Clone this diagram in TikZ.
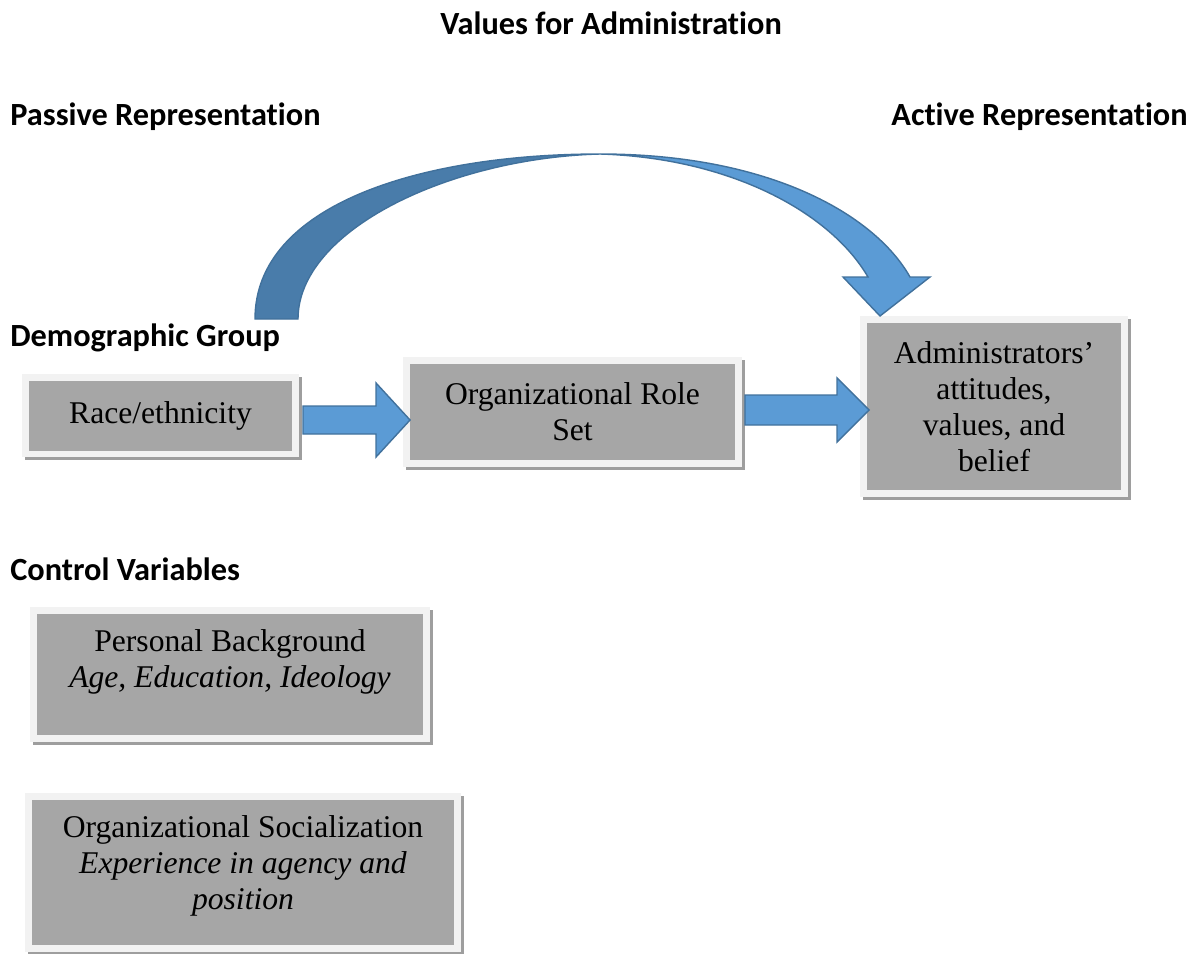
\documentclass[tikz,border=0pt]{standalone}
\usepackage{fontspec}
\setmainfont{Liberation Serif}
\newfontfamily\headfont{Carlito}[Ligatures={NoCommon}]
\usetikzlibrary{calc,shadows}

\definecolor{arrowblue}{RGB}{91,155,213}
\definecolor{arrowdark}{RGB}{73,124,170}
\definecolor{arrowline}{RGB}{65,113,156}
\definecolor{boxfill}{RGB}{166,166,166}
\definecolor{boxframe}{RGB}{242,242,242}
\definecolor{boxshade}{RGB}{158,158,158}

% straight block arrow: start, tip, half shaft, half head, head length
\newcommand{\flowarrow}[5]{%
  \filldraw[blockarrow] ($(#1)+(0,-#3)$) -- ($(#2)+(-#5,-#3)$) -- ($(#2)+(-#5,-#4)$)
    -- (#2) -- ($(#2)+(-#5,#4)$) -- ($(#2)+(-#5,#3)$) -- ($(#1)+(0,#3)$) -- cycle;}

\begin{document}
\begin{tikzpicture}[x=0.02cm, y=-0.02cm,
    heading/.style={font=\headfont\bfseries\fontsize{18.4}{22}\selectfont, inner sep=0pt},
    varbox/.style={fill=boxfill, draw=boxframe, line width=0.14cm, align=center,
      font=\fontsize{18}{20.5}\selectfont, inner sep=0pt,
      drop shadow={shadow xshift=0.06cm, shadow yshift=-0.06cm, fill=boxshade,
        draw=boxshade, line width=0.14cm, opacity=1}},
    boxtext/.style={align=center, font=\fontsize{18}{20.5}\selectfont, inner sep=0pt},
    blockarrow/.style={fill=arrowblue, draw=arrowline, line width=0.8pt, line join=miter},
    arcback/.style={fill=arrowdark, draw=arrowline, line width=0.8pt}]
  \useasboundingbox (0,0) rectangle (1195,953);

  % headings
  \node[heading, anchor=base] (title) at (611,35) {Values for Administration};
  \node[heading, anchor=base west] (passive) at (10,125) {Passive Representation};
  \node[heading, anchor=base east] (active) at (1188,125) {Active Representation};
  \node[heading, anchor=base west] (demog) at (10,346) {Demographic Group};
  \node[heading, anchor=base west] (controls) at (10,580) {Control Variables};

  % main chain
  \node[varbox, minimum width=5.4cm, minimum height=1.54cm] (race) at (160.5,415.5) {Race/ethnicity};
  \node[varbox, minimum width=6.64cm, minimum height=2.06cm] (role) at (572.5,412) {Organizational Role\\Set};
  \node[varbox, minimum width=5.22cm, minimum height=3.48cm] (admin) at (994,406.5)
    {Administrators’\\attitudes,\\values, and\\belief};

  % control variables
  \node[varbox, minimum width=7.86cm, minimum height=2.56cm] (persbg) at (230,674.5) {};
  \node[boxtext] (persbgtext) at ([yshift=0.25cm]persbg.center)
    {Personal Background\\\textit{Age, Education, Ideology}};
  \node[varbox, minimum width=8.6cm, minimum height=3.04cm] (orgsoc) at (243,872.5) {};
  \node[boxtext] (orgsoctext) at ([yshift=0.14cm]orgsoc.center)
    {Organizational Socialization\\\textit{Experience in agency and}\\\textit{position}};

  % arrows between the boxes
  \coordinate (a1s) at ($(race.east)+(4,4.5)$);
  \coordinate (a1e) at ($(a1s -| role.west)+(7,0)$);
  \flowarrow{a1s}{a1e}{14}{37}{34}
  \coordinate (a2s) at ($(role.east)+(3,-2)$);
  \coordinate (a2e) at ($(a2s -| admin.west)+(9,0)$);
  \flowarrow{a2s}{a2e}{15}{32}{32}

  % curved arrow over the top
  \filldraw[arcback] (255,319) .. controls (255,205) and (420,154) .. (600,154)
    .. controls (450,158) and (298,230) .. (298,319) -- cycle;
  \filldraw[blockarrow] (600,154) .. controls (770,154) and (875,215) .. (910,277)
    -- (930,277) -- (880,316) -- (843,277) -- (868,277)
    .. controls (830,212) and (730,158) .. (600,154) -- cycle;
\end{tikzpicture}
\end{document}
